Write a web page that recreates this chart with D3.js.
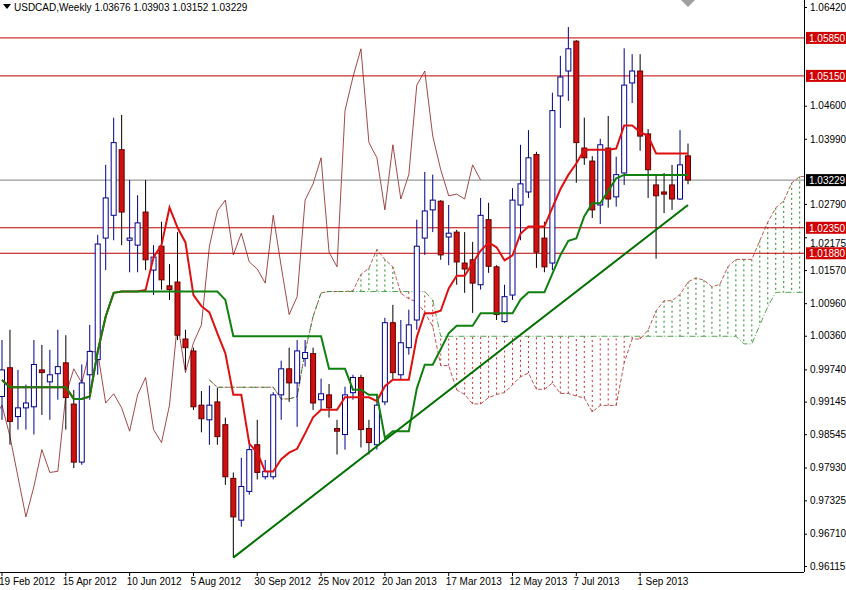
<!DOCTYPE html>
<html><head><meta charset="utf-8">
<script src="https://cdn.jsdelivr.net/npm/d3@7"></script>
<style>body{margin:0;background:#fff}svg{display:block;font-family:"Liberation Sans",Arial,sans-serif}</style>
</head><body><svg id="svg"></svg>
<script>
// weekly OHLC, first bar = 19 Feb 2012
var opens = [0.9924,0.9977,0.9887,0.9903,0.9905,0.9973,0.9951,0.9966,0.9986,0.9910,0.9803,0.9964,0.9992,1.0216,1.0258,1.0379,1.0212,1.0203,1.0264,1.0157,1.0201,1.0128,1.0135,1.0030,1.0008,0.9908,0.9881,0.9914,0.9872,0.9773,0.9696,0.9749,0.9835,0.9776,0.9776,0.9927,0.9975,0.9949,0.9994,1.0003,0.9918,0.9927,0.9865,0.9854,0.9931,0.9959,0.9865,0.9835,0.9914,1.0060,0.9964,1.0014,1.0065,1.0216,1.0268,1.0284,1.0218,1.0227,1.0170,1.0176,1.0130,1.0250,1.0163,1.0062,1.0111,1.0277,1.0301,1.0370,1.0216,1.0170,1.0478,1.0524,1.0579,1.0382,1.0358,1.0277,1.0382,1.0292,1.0336,1.0502,1.0524,1.0408,1.0314,1.0301,1.0314,1.0288,1.03676];
var highs = [1.0028,1.0047,0.9973,0.9946,1.0028,1.0019,1.0010,1.0047,1.0037,0.9936,0.9983,1.0056,1.0222,1.0351,1.0438,1.0443,1.0323,1.0295,1.0323,1.0203,1.0246,1.0168,1.0227,1.0047,1.0014,0.9934,0.9944,0.9940,0.9885,0.9784,0.9811,0.9844,0.9881,0.9807,0.9932,0.9990,1.0014,1.0028,1.0028,1.0014,0.9957,0.9947,0.9881,0.9942,0.9964,0.9964,0.9881,0.9927,1.0069,1.0093,1.0065,1.0084,1.0250,1.0338,1.0333,1.0286,1.0277,1.0231,1.0227,1.0209,1.0290,1.0281,1.0166,1.0130,1.0308,1.0388,1.0415,1.0375,1.0246,1.0484,1.0552,1.0605,1.0581,1.0438,1.0367,1.0399,1.0441,1.0366,1.0566,1.0555,1.0555,1.0417,1.0331,1.0336,1.0351,1.0415,1.03903];
var lows = [0.9881,0.9835,0.9863,0.9863,0.9854,0.9890,0.9881,0.9918,0.9863,0.9792,0.9798,0.9918,0.9964,1.0157,1.0212,1.0203,1.0153,1.0153,1.0157,1.0111,1.0121,1.0102,1.0028,0.9973,0.9899,0.9858,0.9835,0.9835,0.9761,0.9627,0.9684,0.9743,0.9771,0.9771,0.9771,0.9881,0.9914,0.9868,0.9979,0.9899,0.9899,0.9885,0.9817,0.9826,0.9918,0.9830,0.9817,0.9826,0.9908,0.9955,0.9955,1.0001,1.0047,1.0185,1.0227,1.0176,1.0166,1.0130,1.0115,1.0078,1.0121,1.0152,1.0065,1.0060,1.0102,1.0212,1.0290,1.0161,1.0153,1.0157,1.0419,1.0469,1.0318,1.0351,1.0253,1.0242,1.0272,1.0274,1.0314,1.0465,1.0377,1.0290,1.0178,1.0262,1.0268,1.0286,1.03152];
var closes = [0.9973,0.9878,0.9903,0.9912,0.9983,0.9968,0.9964,0.9979,0.9922,0.9803,0.9949,1.0007,1.0205,1.0290,1.0392,1.0264,1.0216,1.0244,1.0176,1.0181,1.0139,1.0121,1.0037,1.0014,0.9905,0.9883,0.9908,0.9850,0.9776,0.9702,0.9758,0.9826,0.9784,0.9786,0.9927,0.9975,0.9949,1.0008,1.0005,0.9912,0.9929,0.9903,0.9860,0.9927,0.9959,0.9863,0.9839,0.9908,1.0060,0.9968,1.0023,1.0056,1.0201,1.0266,1.0286,1.0185,1.0225,1.0172,1.0159,1.0133,1.0258,1.0164,1.0075,1.0108,1.0286,1.0316,1.0364,1.0190,1.0163,1.0451,1.0513,1.0565,1.0392,1.0364,1.0268,1.0388,1.0288,1.0333,1.0498,1.0524,1.0404,1.0342,1.0294,1.0297,1.0288,1.0351,1.03229];

var dateLabels = ["19 Feb 2012","15 Apr 2012","10 Jun 2012","5 Aug 2012","30 Sep 2012","25 Nov 2012","20 Jan 2013","17 Mar 2013","12 May 2013","7 Jul 2013","1 Sep 2013"];
var dateIndex = [0,8,16,24,32,40,48,56,64,72,80];
var priceTicks = [1.06420,1.04600,1.03990,1.02790,1.02175,1.01570,1.00960,1.00360,0.99740,0.99145,0.98545,0.97930,0.97325,0.96710,0.96115];
var levels = [1.05850,1.05150,1.02350,1.01880];
var lastPrice = 1.03229;
var trendIdx = [29,86];
var trendPrice = [0.9627,1.0277];

var W = 846, H = 590, plotR = 804, plotB = 572;
var svg = d3.select("#svg").attr("width", W).attr("height", H);
var x = d3.scaleLinear().domain([0,86]).range([2,688]);
var y = d3.scaleLinear().domain([0.96115,1.0642]).range([566,7]);

svg.append("defs").append("clipPath").attr("id","clip")
  .append("rect").attr("x",0).attr("y",0).attr("width",plotR).attr("height",plotB);
var g = svg.append("g").attr("clip-path","url(#clip)");

// ichimoku from the bars (partial windows at the start)
var n = closes.length;
function mid(i, len) {
  var a = Math.max(0, i-len+1);
  return (d3.max(highs.slice(a,i+1)) + d3.min(lows.slice(a,i+1))) / 2;
}
var tenkan = d3.range(n).map(i => mid(i,9));
var kijun = d3.range(n).map(i => mid(i,26));
var spanA = d3.range(n).map(i => ({i: i+26, v: (tenkan[i]+kijun[i])/2}));
var spanB = d3.range(n).map(i => ({i: i+26, v: mid(i,52)}));

// cloud hatch
spanA.forEach((a, k) => {
  var b = spanB[k];
  g.append("line").attr("x1",x(a.i)).attr("x2",x(a.i))
    .attr("y1",y(a.v)).attr("y2",y(b.v))
    .attr("stroke", a.v >= b.v ? "#1a8a1a" : "#c83030")
    .attr("stroke-width",1).attr("stroke-dasharray","2,3");
});
var lineI = d3.line().x(d => x(d.i)).y(d => y(d.v));
g.append("path").attr("d", lineI(spanA)).attr("fill","none").attr("stroke","#b03030").attr("stroke-width",0.8).attr("stroke-dasharray","4,2");
g.append("path").attr("d", lineI(spanB)).attr("fill","none").attr("stroke","#2a8a2a").attr("stroke-width",0.8).attr("stroke-dasharray","6,2,1,2");

// chikou
g.append("path").attr("d", lineI(closes.map((c,i) => ({i: i-26, v: c}))))
  .attr("fill","none").attr("stroke","#8b1a1a").attr("stroke-width",0.8);

// horizontal levels
levels.forEach(l => g.append("line").attr("x1",0).attr("x2",plotR).attr("y1",y(l)).attr("y2",y(l)).attr("stroke","#c00000").attr("stroke-width",1));
g.append("line").attr("x1",0).attr("x2",plotR).attr("y1",y(lastPrice)).attr("y2",y(lastPrice)).attr("stroke","#808080").attr("stroke-width",1);

// candles
var idx = d3.range(n);
g.selectAll(".wick").data(idx).join("line")
  .attr("x1", i => x(i)).attr("x2", i => x(i))
  .attr("y1", i => y(highs[i])).attr("y2", i => y(lows[i]))
  .attr("stroke", i => closes[i] >= opens[i] ? "#000090" : "#000").attr("stroke-width",1);
g.selectAll(".body").data(idx).join("rect")
  .attr("x", i => x(i)-2.5).attr("width",5)
  .attr("y", i => y(Math.max(opens[i],closes[i])))
  .attr("height", i => Math.max(1, Math.abs(y(opens[i])-y(closes[i]))))
  .attr("fill", i => closes[i] >= opens[i] ? "#fff" : "#d01010")
  .attr("stroke", i => closes[i] >= opens[i] ? "#000090" : "#600000").attr("stroke-width",1);

// tenkan / kijun
var line = d3.line().x((d,i) => x(i)).y(d => y(d));
g.append("path").attr("d", line(tenkan)).attr("fill","none").attr("stroke","#e01010").attr("stroke-width",2);
g.append("path").attr("d", line(kijun)).attr("fill","none").attr("stroke","#108010").attr("stroke-width",2);

// trend line
g.append("line").attr("x1",x(trendIdx[0])).attr("y1",y(trendPrice[0]))
  .attr("x2",x(trendIdx[1])).attr("y2",y(trendPrice[1])).attr("stroke","#007000").attr("stroke-width",2);

// frame
svg.append("line").attr("x1",plotR+0.5).attr("x2",plotR+0.5).attr("y1",0).attr("y2",plotB).attr("stroke","#000");
svg.append("line").attr("x1",0).attr("x2",plotR).attr("y1",plotB+0.5).attr("y2",plotB+0.5).attr("stroke","#000");

// right axis
var ax = svg.append("g").attr("transform",`translate(${plotR},0)`)
  .call(d3.axisRight(y).tickValues(priceTicks).tickFormat(d3.format(".5f")).tickSize(3));
ax.select(".domain").remove();
ax.selectAll("text").attr("font-size",10).attr("fill","#000").attr("font-family","Liberation Sans, Arial")
  .attr("dy", d => d === 1.02175 ? "0.9em" : "0.32em");
function tag(v, bg) {
  svg.append("rect").attr("x",plotR+2).attr("y",y(v)-6).attr("width",42).attr("height",12).attr("fill",bg);
  svg.append("text").attr("x",plotR+5).attr("y",y(v)+4).attr("font-size",10).attr("fill","#fff").text(v.toFixed(5));
}
levels.forEach(l => tag(l, "#d00000"));
tag(lastPrice, "#000");

// bottom axis
dateIndex.forEach((d,k) => {
  svg.append("line").attr("x1",x(d)).attr("x2",x(d)).attr("y1",plotB).attr("y2",plotB+4).attr("stroke","#000");
  svg.append("text").attr("x",x(d)-3).attr("y",plotB+13).attr("font-size",10).text(dateLabels[k]);
});

// header
svg.append("path").attr("d","M3,4 L11,4 L7,9 Z").attr("fill","#000");
svg.append("text").attr("x",14).attr("y",11).attr("font-size",10).text("USDCAD,Weekly  1.03676 1.03903 1.03152 1.03229");
svg.append("path").attr("d","M681,0 L695,0 L688,7 Z").attr("fill","#a0a0a0");
</script></body></html>
